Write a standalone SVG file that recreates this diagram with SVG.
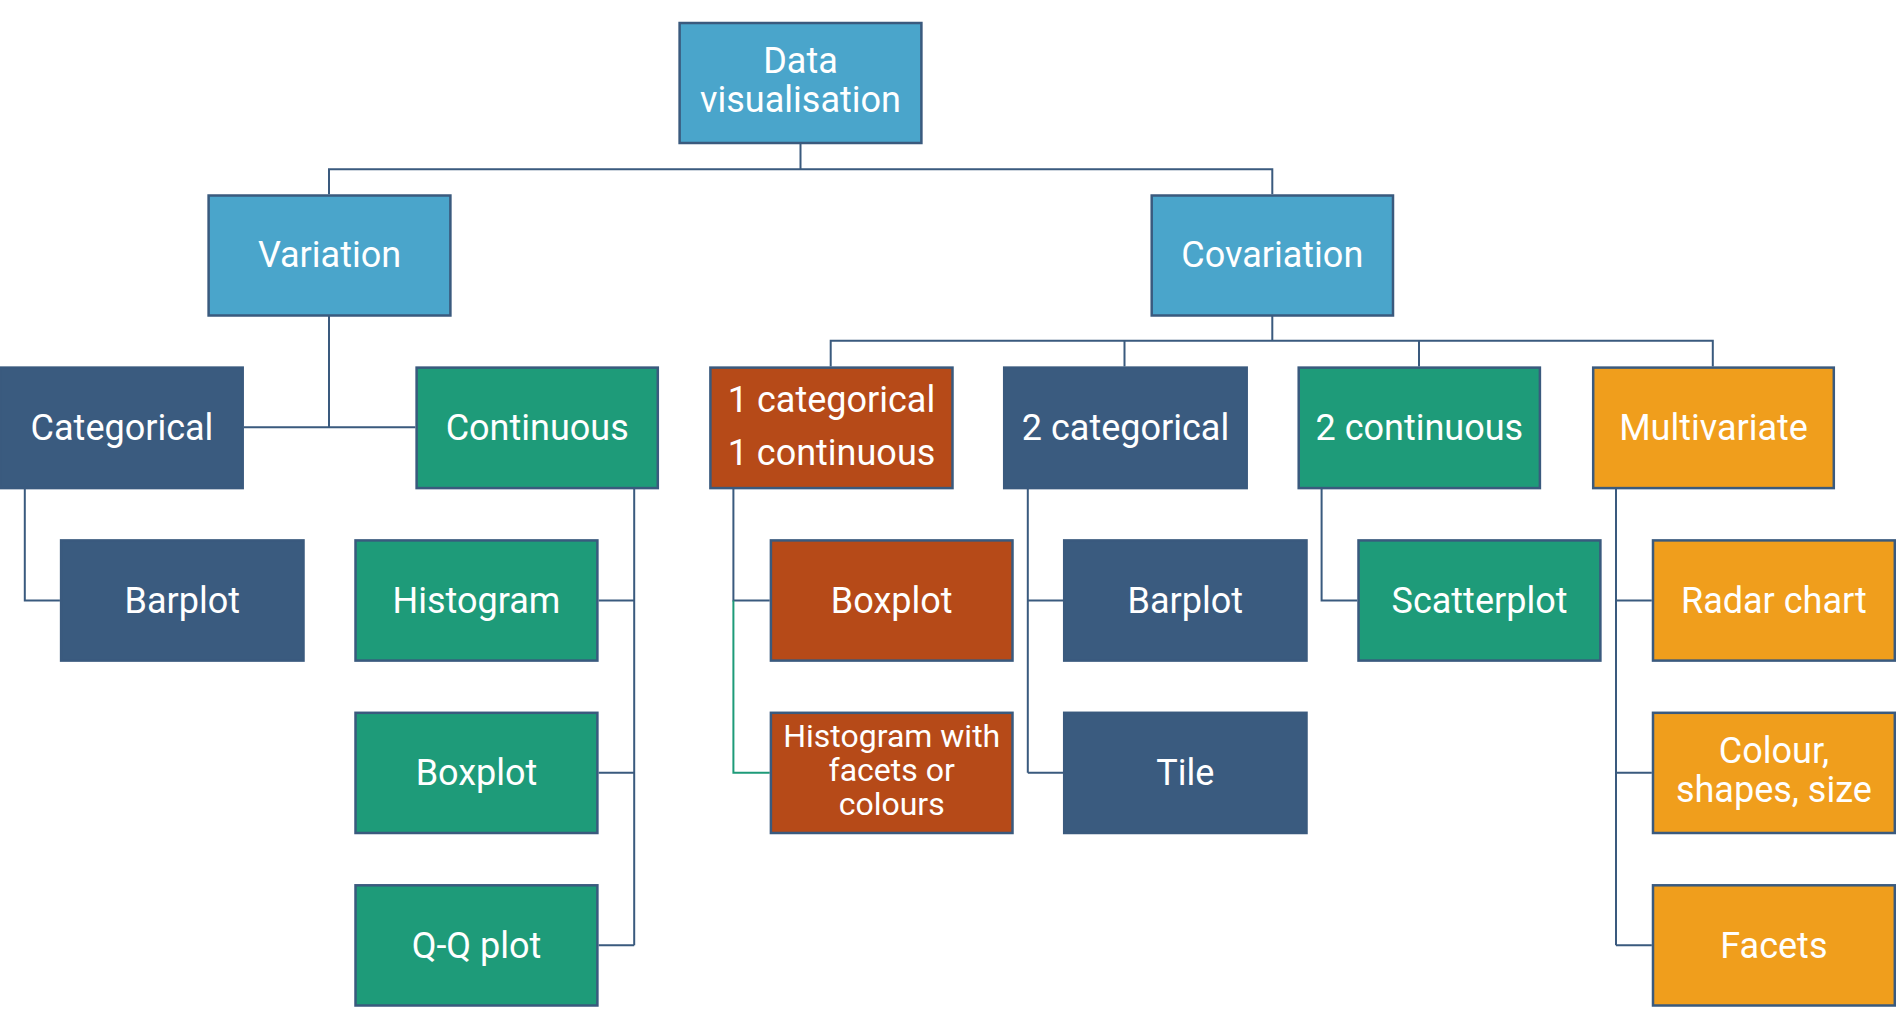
<svg xmlns="http://www.w3.org/2000/svg" width="1896" height="1026" viewBox="0 0 1896 1026">
<style>
.box{stroke:#3a5a7e;stroke-width:2.5}
.lb{fill:#4aa5cb}
.db{fill:#3a5b7f}
.tl{fill:#1e9b79}
.rs{fill:#b64a18}
.am{fill:#f09e1c}
text{font-family:Roboto,"Liberation Sans",sans-serif;font-size:36px;fill:#ffffff;text-anchor:middle}
.sm{font-size:32px}
.ln{fill:none;stroke:#3a5a7e;stroke-width:2}
.gr{fill:none;stroke:#1e9b79;stroke-width:2}
</style>
<rect width="1896" height="1026" fill="#ffffff"/>
<g id="connectors">
<path class="ln" d="M800.5,144 V169.3 M329,194.3 V169.3 H1272.3 V194.3"/>
<path class="ln" d="M329,316 V427.3 M244,427.3 H415.4"/>
<path class="ln" d="M1272.3,316 V340.7 M830.7,366.4 V340.7 H1712.8 V366.4 M1124.5,340.7 V366.4 M1419,340.7 V366.4"/>
<path class="ln" d="M24.8,489 V600.5 H59.9"/>
<path class="ln" d="M634.2,489 V945.3 M598.6,600.5 H634.2 M598.6,772.8 H634.2 M598.6,945.3 H634.2"/>
<path class="ln" d="M733.4,489 V600.5 H769.7"/>
<path class="gr" d="M733.4,600.5 V772.8 H769.7"/>
<path class="ln" d="M1027.8,489 V772.8 M1027.8,600.5 H1063 M1027.8,772.8 H1063"/>
<path class="ln" d="M1321.6,489 V600.5 H1357.3"/>
<path class="ln" d="M1616,489 V945.3 M1616,600.5 H1651.8 M1616,772.8 H1651.8 M1616,945.3 H1651.8"/>
</g>
<g id="data-visualisation"><rect class="box lb" x="679.6" y="23" width="241.8" height="120"/><text x="800.5" y="73.3">Data</text><text x="800.5" y="112.3">visualisation</text></g>
<g id="variation"><rect class="box lb" x="208.6" y="195.5" width="241.8" height="120"/><text x="329.5" y="267">Variation</text></g>
<g id="covariation"><rect class="box lb" x="1151.7" y="195.5" width="241.3" height="120"/><text x="1272.3" y="267">Covariation</text></g>
<g id="categorical"><rect class="box db" x="0" y="367.6" width="242.7" height="120.5"/><text x="122" y="440">Categorical</text></g>
<g id="continuous"><rect class="box tl" x="416.6" y="367.6" width="241.2" height="120.5"/><text x="537.2" y="440">Continuous</text></g>
<g id="one-cat-one-cont"><rect class="box rs" x="710.4" y="367.6" width="242.1" height="120.5"/><text x="831.5" y="412.3">1 categorical</text><text x="831.5" y="465">1 continuous</text></g>
<g id="two-categorical"><rect class="box db" x="1004.2" y="367.6" width="242.5" height="120.5"/><text x="1125.5" y="440">2 categorical</text></g>
<g id="two-continuous"><rect class="box tl" x="1298.7" y="367.6" width="241.2" height="120.5"/><text x="1419.3" y="440">2 continuous</text></g>
<g id="multivariate"><rect class="box am" x="1593.2" y="367.6" width="240.6" height="120.5"/><text x="1713.5" y="440">Multivariate</text></g>
<g id="barplot-cat"><rect class="box db" x="61.1" y="540.4" width="242.4" height="120.2"/><text x="182.3" y="613">Barplot</text></g>
<g id="histogram"><rect class="box tl" x="355.5" y="540.4" width="241.9" height="120.2"/><text x="476.5" y="613">Histogram</text></g>
<g id="boxplot-cont"><rect class="box tl" x="355.5" y="712.8" width="241.9" height="120.2"/><text x="476.5" y="785">Boxplot</text></g>
<g id="qq-plot"><rect class="box tl" x="355.5" y="885.3" width="241.9" height="120.2"/><text x="476.5" y="958">Q-Q plot</text></g>
<g id="boxplot-1cat"><rect class="box rs" x="770.9" y="540.4" width="241.6" height="120.2"/><text x="891.7" y="613">Boxplot</text></g>
<g id="histogram-facets"><rect class="box rs" x="770.9" y="712.8" width="241.6" height="120.2"/><text class="sm" x="891.7" y="746.7">Histogram with</text><text class="sm" x="891.7" y="781">facets or</text><text class="sm" x="891.7" y="815">colours</text></g>
<g id="barplot-2cat"><rect class="box db" x="1064.2" y="540.4" width="242.3" height="120.2"/><text x="1185.3" y="613">Barplot</text></g>
<g id="tile"><rect class="box db" x="1064.2" y="712.8" width="242.3" height="120.2"/><text x="1185.3" y="785">Tile</text></g>
<g id="scatterplot"><rect class="box tl" x="1358.5" y="540.4" width="241.9" height="120.2"/><text x="1479.5" y="613">Scatterplot</text></g>
<g id="radar-chart"><rect class="box am" x="1653" y="540.4" width="241.8" height="120.2"/><text x="1773.9" y="613">Radar chart</text></g>
<g id="colour-shapes-size"><rect class="box am" x="1653" y="712.8" width="241.8" height="120.2"/><text x="1773.9" y="762.7">Colour,</text><text x="1773.9" y="801.7">shapes, size</text></g>
<g id="facets"><rect class="box am" x="1653" y="885.3" width="241.8" height="120.2"/><text x="1773.9" y="958">Facets</text></g>
</svg>
